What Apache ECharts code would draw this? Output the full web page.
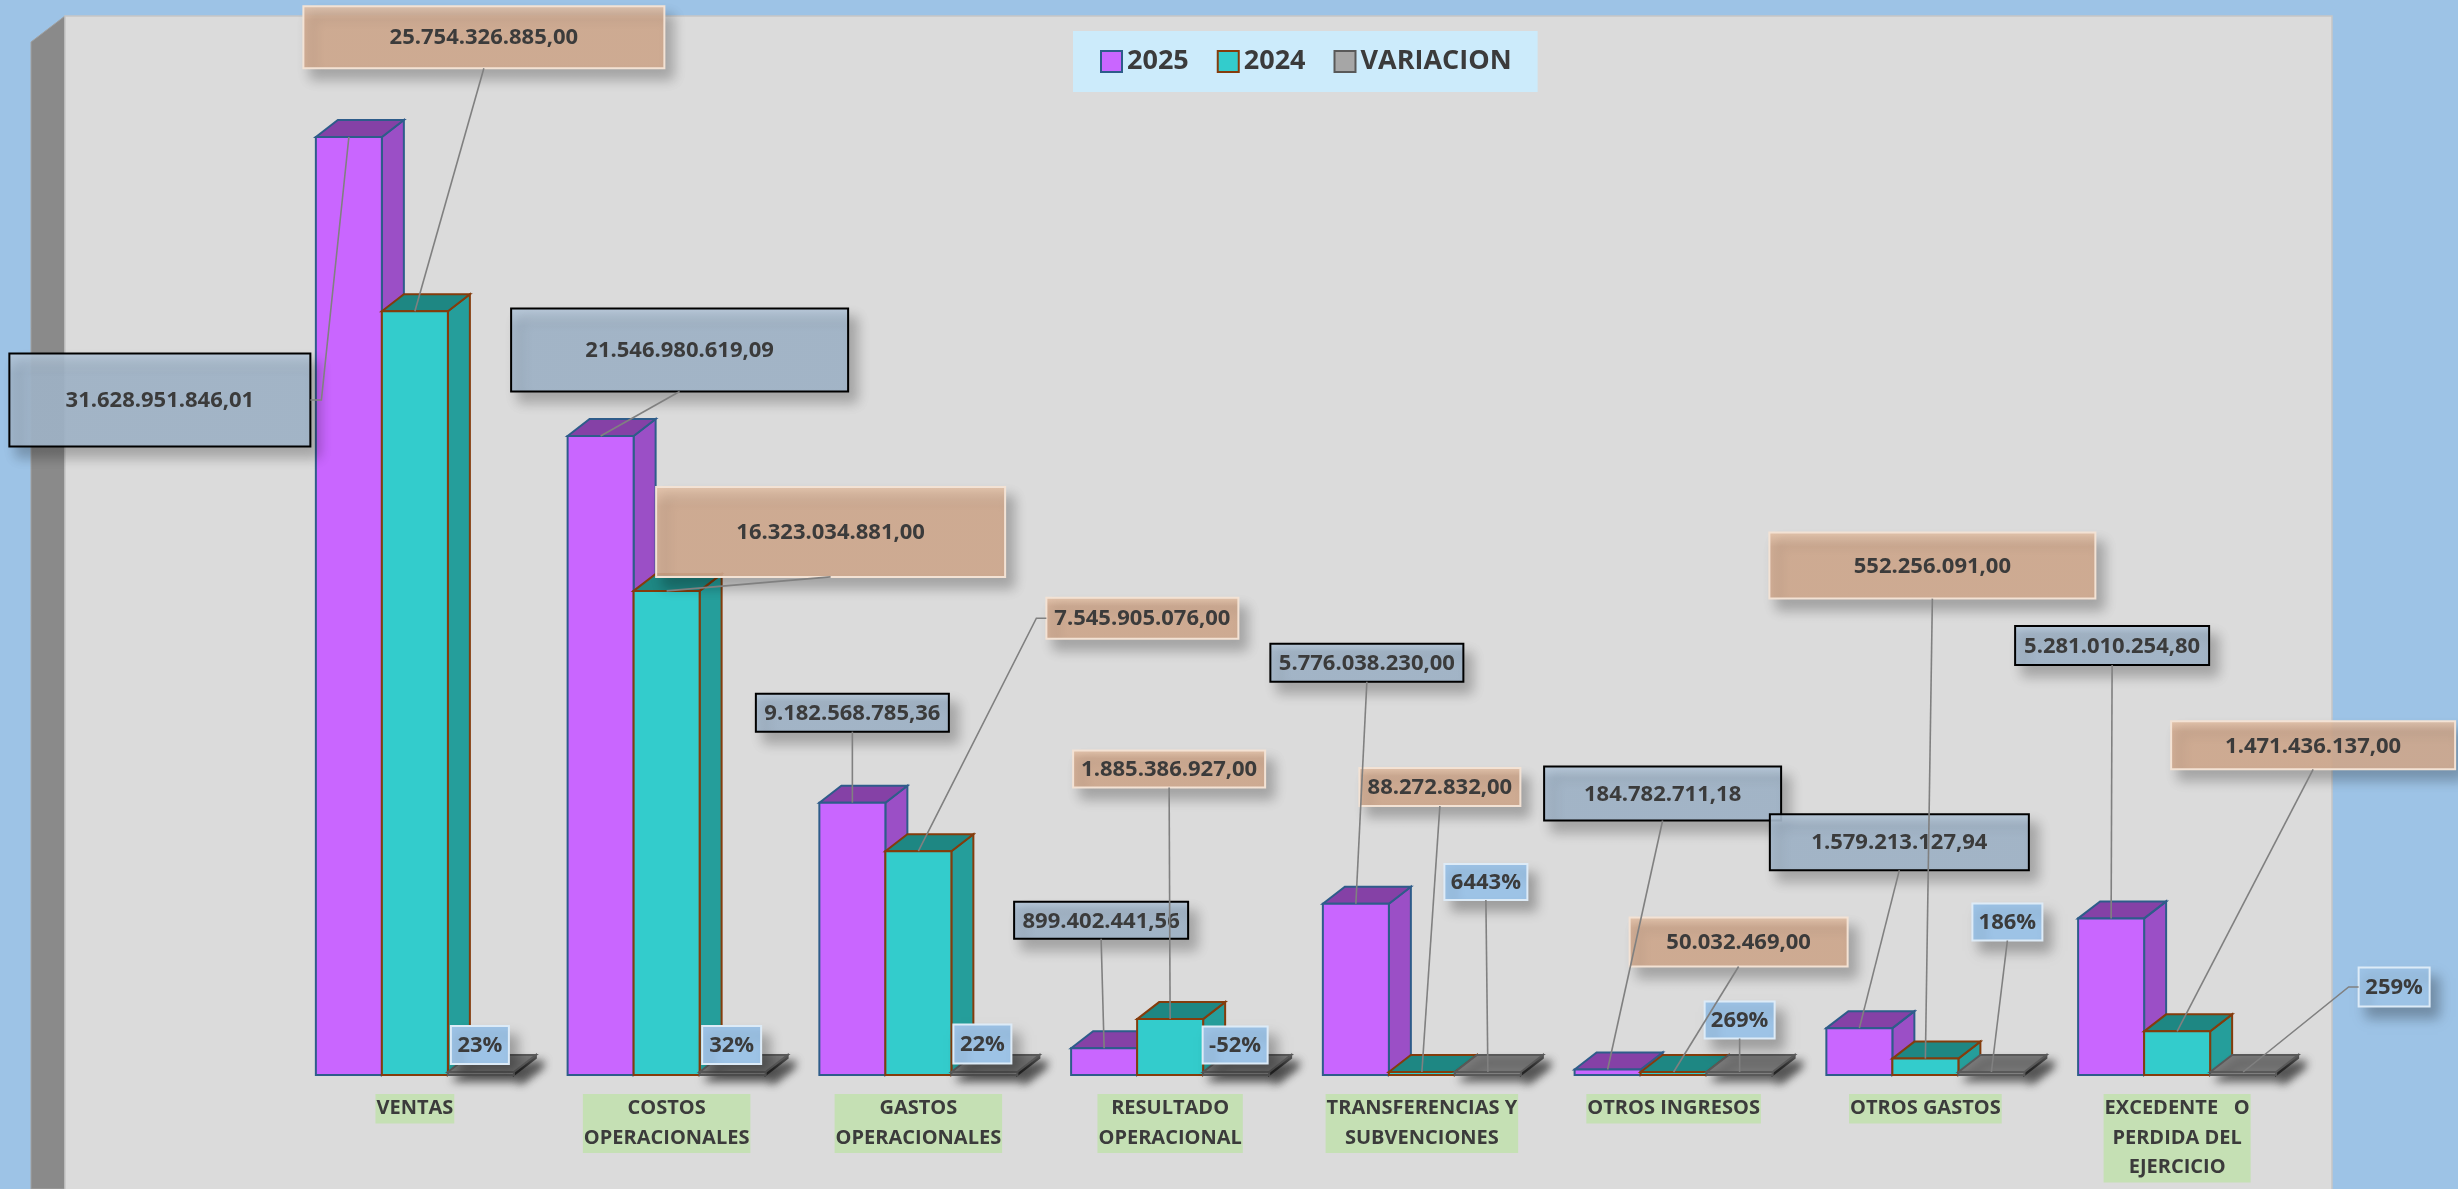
<!DOCTYPE html>
<html>
<head>
<meta charset="utf-8">
<title>Estado de resultados 2025 vs 2024</title>
<script src="https://cdn.jsdelivr.net/npm/echarts@6/dist/echarts.min.js"></script>
<style>
	html, body { margin:0; padding:0; background:#9DC3E6; }
	#main { width:2458px; height:1189px; }
</style>
</head>
<body>
<div id="main"></div>

<script type="text/javascript">

	var categorias = ['VENTAS', 'COSTOS\nOPERACIONALES', 'GASTOS\nOPERACIONALES', 'RESULTADO\nOPERACIONAL',
		'TRANSFERENCIAS Y\nSUBVENCIONES', 'OTROS INGRESOS', 'OTROS GASTOS', 'EXCEDENTE   O\nPERDIDA DEL\nEJERCICIO'];

	var valores2025 = [31628951846.01, 21546980619.09, 9182568785.36, 899402441.56,
		5776038230.00, 184782711.18, 1579213127.94, 5281010254.80];

	var valores2024 = [25754326885.00, 16323034881.00, 7545905076.00, 1885386927.00,
		88272832.00, 50032469.00, 552256091.00, 1471436137.00];

	// variacion 2025 vs 2024 (fraccion)
	var variacion = [0.23, 0.32, 0.22, -0.52, 64.43, 2.69, 1.86, 2.59];

	// cajas de etiqueta: [dx, dy, ancho, alto, lado de la guia] respecto al centro superior de la barra
	var cajas2025 = [
		[-189, 263, 301, 93, 'r'], [79, -86, 337, 83, 'b'], [0, -90, 193, 38, 'b'], [-3, -128, 174, 37, 'b'],
		[11, -241, 193, 38, 'b'], [55, -276, 237, 54, 'b'], [40, -186, 259, 56, 'b'], [1, -273, 194, 39, 'b']
	];
	var cajas2024 = [
		[69, -274, 361, 62, 'b'], [164, -59, 349, 90, 'b'], [224, -233, 192, 41, 'l'], [-1, -250, 192, 37, 'b'],
		[18, -285, 161, 38, 'b'], [65, -130, 218, 49, 'b'], [7, -493, 326, 66, 'b'], [136, -286, 284, 48, 'b']
	];
	var cajasVar = [
		[-1, -27, 58, 38, ''], [-1, -27, 59, 38, ''], [-2, -28, 58, 39, ''], [-1, -27, 65, 37, ''],
		[-2, -190, 83, 36, 'b'], [0, -52, 70, 37, 'b'], [16, -150, 70, 37, 'b'], [151, -85, 71, 39, 'l']
	];

	var colores2025 = {frente:'#C966FF', lado:'#9B4FC6', tapa:'#8541A6', borde:'#2E5C8A'};
	var colores2024 = {frente:'#33CCCC', lado:'#259E9B', tapa:'#1E8783', borde:'#843C0C'};
	var coloresVar  = {frente:'#7F7F7F', lado:'#5E5E5E', tapa:'#7A7A7A', borde:'#595959', sombra:true};

	var caja2025 = {
		fill: {type:'linear', x:0, y:0, x2:0, y2:1, colorStops:[{offset:0, color:'rgba(182,200,218,0.9)'}, {offset:0.22, color:'rgba(162,182,202,0.9)'}, {offset:1, color:'rgba(162,182,202,0.9)'}]},
		stroke:'#000000', lineWidth:2
	};
	var caja2024 = {
		fill: {type:'linear', x:0, y:0, x2:0, y2:1, colorStops:[{offset:0, color:'rgba(228,194,168,0.9)'}, {offset:0.22, color:'rgba(210,171,144,0.9)'}, {offset:1, color:'rgba(210,171,144,0.9)'}]},
		stroke:'#F3E2D4', lineWidth:2
	};
	var cajaVar = { fill:'#9DC3E6', stroke:'#DDEBF7', lineWidth:2 };

	function formatoPesos(v) {
		var partes = v.toFixed(2).split('.');
		return partes[0].replace(/\B(?=(\d{3})+(?!\d))/g, '.') + ',' + partes[1];
	}
	function formatoPct(v) {
		return Math.round(v * 100) + '%';
	}

	function pintarBarra(orden, colores, cajas, estiloCaja, formato) {
		return function (params, api) {
			var i = api.value(0);
			var base = api.coord([i, 0]);
			var tope = api.coord([i, api.value(1)]);
			var banda = api.size([1, 0])[0];
			var w = banda * 0.2622;
			var x0 = base[0] + (orden - 1) * w - w / 2;
			var yb = base[1];
			var yt = tope[1];
			if (yb - yt < 3) yt = yb - 3;
			var dx = 22, dy = -17;
			var sombra = colores.sombra ? {shadowBlur:10, shadowColor:'rgba(0,0,0,0.6)', shadowOffsetX:6, shadowOffsetY:8} : {};

			var hijos = [
				{type:'polygon', shape:{points:[[x0 + w, yt], [x0 + w + dx, yt + dy], [x0 + w + dx, yb + dy], [x0 + w, yb]]},
					style:Object.assign({fill:colores.lado, stroke:colores.borde, lineWidth:2}, sombra)},
				{type:'polygon', shape:{points:[[x0, yt], [x0 + dx, yt + dy], [x0 + w + dx, yt + dy], [x0 + w, yt]]},
					style:Object.assign({fill:colores.tapa, stroke:colores.borde, lineWidth:2}, sombra)},
				{type:'rect', shape:{x:x0, y:yt, width:w, height:yb - yt},
					style:{fill:colores.frente, stroke:colores.borde, lineWidth:2}}
			];

			var c = cajas[params.dataIndex];
			var ax = x0 + w / 2, ay = yt;
			var cx = ax + c[0], cy = ay + c[1];
			var bw = c[2], bh = c[3];
			hijos.push({type:'rect', z2:50, shape:{x:cx - bw / 2, y:cy - bh / 2, width:bw, height:bh},
				style:Object.assign({shadowBlur:12, shadowColor:'rgba(0,0,0,0.28)', shadowOffsetX:8, shadowOffsetY:10}, estiloCaja)});
			hijos.push({type:'text', z2:51, style:{text:formato(api.value(1)), x:cx, y:cy + 1, align:'center', verticalAlign:'middle',
				fontFamily:'Open Sans', fontWeight:'bold', fontSize:22, fill:'#3B3B3B'}});

			var puntos = null;
			if (c[4] === 'b') puntos = [[ax, ay], [cx, cy + bh / 2]];
			else if (c[4] === 'l') puntos = [[ax, ay], [cx - bw / 2 - 10, cy], [cx - bw / 2, cy]];
			else if (c[4] === 'r') puntos = [[ax, ay], [cx + bw / 2 + 11, cy], [cx + bw / 2, cy]];
			if (puntos) {
				hijos.push({type:'polyline', z2:60, shape:{points:puntos}, style:{stroke:'#808080', lineWidth:1.6, fill:null}});
			}
			return {type:'group', children:hijos};
		};
	}

	function pares(arr) {
		return arr.map(function (v, i) { return [i, v]; });
	}

	var grafico = echarts.init(document.getElementById('main'));
	grafico.setOption({
		animation: false,
		backgroundColor: '#9DC3E6',
		graphic: [
			{type:'polygon', shape:{points:[[31, 42], [65, 16], [65, 1189], [31, 1189]]}, style:{fill:'#8A8A8A', stroke:'#A0A0A0', lineWidth:1}},
			{type:'rect', shape:{x:65, y:16, width:2267, height:1190}, style:{fill:'#DBDBDB', stroke:'#C6C6C6', lineWidth:1.5}}
		],
		legend: {
			left: 1073,
			top: 31,
			padding: [17, 26, 17, 27],
			backgroundColor: '#CCEBFB',
			itemWidth: 21,
			itemHeight: 21,
			itemGap: 28,
			icon: 'rect',
			textStyle: {fontFamily:'Open Sans', fontWeight:'bold', fontSize:27, color:'#3B3B3B', lineHeight:21},
			data: [
				{name:'2025', itemStyle:{color:'#C966FF', borderColor:'#2E5C8A', borderWidth:2}},
				{name:'2024', itemStyle:{color:'#33CCCC', borderColor:'#843C0C', borderWidth:2}},
				{name:'VARIACION', itemStyle:{color:'#A6A6A6', borderColor:'#595959', borderWidth:2}}
			]
		},
		grid: {left:289, right:155, top:37, bottom:114},
		xAxis: {
			type: 'category',
			data: categorias,
			axisLine: {show:false},
			axisTick: {show:false},
			axisLabel: {
				interval: 0,
				margin: 19,
				color: '#3B3B3B',
				fontFamily: 'Open Sans',
				fontWeight: 'bold',
				fontSize: 20,
				lineHeight: 29.5,
				backgroundColor: '#C5E0B4',
				padding: [0, 1, 0, 1]
			}
		},
		yAxis: {type:'value', min:0, max:35e9, show:false},
		series: [
			{name:'2025', type:'custom', clip:false, itemStyle:{color:'#C966FF', borderColor:'#2E5C8A', borderWidth:2},
				renderItem:pintarBarra(0, colores2025, cajas2025, caja2025, formatoPesos), data:pares(valores2025)},
			{name:'2024', type:'custom', clip:false, itemStyle:{color:'#33CCCC', borderColor:'#843C0C', borderWidth:2},
				renderItem:pintarBarra(1, colores2024, cajas2024, caja2024, formatoPesos), data:pares(valores2024)},
			{name:'VARIACION', type:'custom', clip:false, itemStyle:{color:'#A6A6A6', borderColor:'#595959', borderWidth:2},
				renderItem:pintarBarra(2, coloresVar, cajasVar, cajaVar, formatoPct), data:pares(variacion)}
		]
	});

</script>
</body>
</html>
